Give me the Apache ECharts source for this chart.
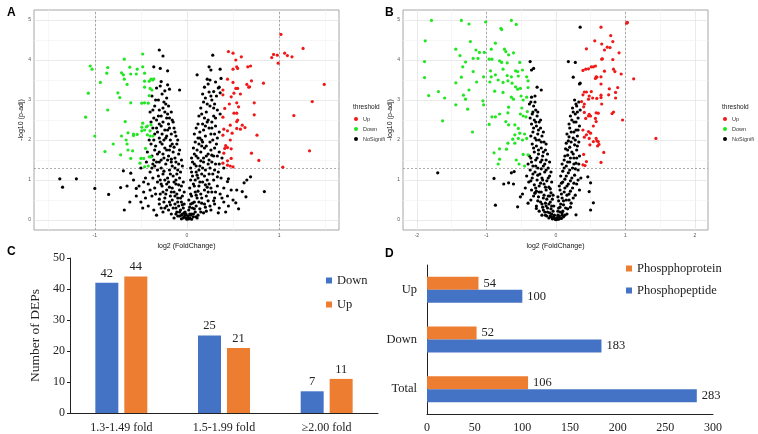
<!DOCTYPE html>
<html>
<head>
<meta charset="utf-8">
<script src="https://cdn.jsdelivr.net/npm/echarts@6/dist/echarts.min.js"></script>
<style>
html, body { margin: 0; padding: 0; background: #fff; }
#chart { width: 758px; height: 434px; }
</style>
</head>
<body>
<div id="chart"></div>
<script>
// ---- panel A volcano (log2 FC, -log10 p-adj) ----
const aUp = [[1.02,4.64],[1.26,4.29],[1.06,4.17],[0.94,4.14],[0.98,4.12],[1.09,4.11],[1.14,4.08],[0.92,4.06],[0.99,3.92],
  [0.45,4.21],[0.50,4.17],[0.59,4.08],[0.53,4.0],[0.54,3.83],[0.55,3.79],[0.50,3.77],[0.66,3.83],[0.69,3.85],[0.44,3.52],
  [0.50,3.44],[0.65,3.39],[0.70,3.48],[0.67,3.32],[0.68,3.33],[0.83,3.42],[1.49,3.39],[0.39,3.25],[0.39,3.13],[0.53,3.29],
  [0.55,3.29],[0.51,3.17],[0.58,3.15],[0.48,3.08],[1.36,2.96],[0.54,2.93],[0.73,2.93],[0.46,2.9],[0.41,2.79],[0.56,2.83],
  [0.51,2.67],[0.54,2.67],[0.73,2.63],[1.16,2.61],[0.39,2.57],[0.55,2.5],[0.54,2.46],[0.47,2.37],[0.60,2.37],[0.63,2.31],
  [0.54,2.29],[0.58,2.27],[0.40,2.27],[0.44,2.23],[0.49,2.17],[0.76,2.12],[0.39,2.12],[0.47,2.0],[0.42,1.86],[0.41,1.79],
  [0.44,1.81],[0.48,1.78],[1.33,1.73],[0.70,1.67],[0.40,1.67],[0.48,1.54],[0.44,1.48],[0.78,1.49],[0.39,1.42],[0.44,1.37],
  [0.47,1.35],[0.50,1.33],[1.04,1.32]];
const aDown = [[-1.05,3.85],[-1.03,3.77],[-1.07,3.17],[-1.10,2.57],[-1.0,2.1],[-0.94,3.44],[-0.86,3.81],[-0.87,3.67],
  [-0.86,2.75],[-0.89,1.71],[-0.80,1.9],[-0.75,3.18],[-0.73,3.06],[-0.72,1.63],[-0.71,2.1],[-0.71,3.68],[-0.69,3.63],
  [-0.68,4.02],[-0.68,3.52],[-0.67,2.46],[-0.66,2.0],[-0.65,1.9],[-0.65,3.39],[-0.64,1.75],[-0.64,2.18],[-0.62,3.82],
  [-0.61,2.93],[-0.61,3.65],[-0.61,1.54],[-0.59,1.73],[-0.58,2.11],[-0.58,2.15],[-0.55,3.65],[-0.54,3.77],[-0.54,2.14],
  [-0.51,1.42],[-0.50,1.54],[-0.49,2.32],[-0.49,2.92],[-0.49,2.23],[-0.48,4.15],[-0.48,3.83],[-0.48,2.42],[-0.47,1.54],
  [-0.46,3.32],[-0.46,3.47],[-0.46,3.67],[-0.46,2.93],[-0.46,2.25],[-0.46,1.33],[-0.45,1.79],[-0.44,2.33],[-0.43,2.13],
  [-0.43,2.35],[-0.42,1.35],[-0.42,2.92],[-0.41,3.47],[-0.41,3.11],[-0.41,1.58],[-0.40,2.23],[-0.40,2.1],[-0.40,3.29],
  [-0.39,1.58],[-0.39,3.52],[-0.39,2.38],[-0.38,3.25],[-0.37,3.5],[-0.37,2.1],[-0.36,3.53]];
const aNoSig = [[-1.38,1.03],[-1.35,0.82],[-1.2,1.03],[-1.0,0.79],[-0.85,0.64],[-0.68,0.25],[-0.69,1.23],[-0.72,0.81],
  [-0.65,0.85],[-0.61,1.17],[-0.55,0.79],[0.84,0.71],[0.64,0.58],[0.53,0.43],[0.54,0.75],[0.62,0.93],[0.65,1.0],[0.69,1.08],
  [0.60,0.71],[0.45,1.03],[0.44,0.96],[-0.30,4.25],[-0.26,4.1],[-0.36,3.83],[-0.29,3.79],[-0.21,3.73],[0.28,4.12],[0.24,3.83],
  [0.11,3.63],[0.36,3.77],[0.26,3.75],[0.37,3.54],[0.22,3.52],[0.25,3.5],[-0.28,3.46],[-0.21,3.38],[-0.19,3.27],[-0.24,3.23],
  [-0.08,3.25],[0.35,3.32],[0.29,3.21],[0.36,3.18],[0.19,3.32],
  [-0.38,3.1],[-0.33,3.3],[-0.31,3.0],[-0.27,3.15],[-0.25,2.95],[-0.35,2.85],[-0.22,3.05],[-0.30,2.75],[-0.20,2.85],
  [-0.40,2.7],[-0.28,2.6],[-0.24,2.7],[-0.19,2.55],[-0.33,2.5],[-0.26,2.45],[-0.21,2.65],[-0.16,2.5],[-0.36,2.55],
  [-0.37,2.3],[-0.32,2.2],[-0.28,2.35],[-0.24,2.25],[-0.20,2.4],[-0.17,2.15],[-0.14,2.3],[-0.30,2.05],[-0.25,2.0],
  [-0.22,2.1],[-0.35,2.15],[-0.18,2.0],[-0.12,2.1],[-0.38,1.6],[-0.34,1.85],[-0.30,1.7],[-0.27,1.9],[-0.25,1.55],
  [-0.22,1.75],[-0.20,1.6],[-0.18,1.85],[-0.15,1.7],[-0.13,1.55],[-0.11,1.9],[-0.28,1.5],[-0.32,1.65],[-0.24,1.8],
  [-0.17,1.52],[-0.09,1.65],[-0.40,1.2],[-0.35,1.35],[-0.31,1.1],[-0.28,1.3],[-0.26,1.15],[-0.23,1.4],[-0.21,1.05],
  [-0.19,1.25],[-0.17,1.45],[-0.15,1.1],[-0.13,1.3],[-0.11,1.15],[-0.09,1.4],[-0.07,1.2],[-0.45,1.05],[-0.33,1.45],
  [-0.24,1.0],[-0.16,1.35],[-0.50,1.3],[-0.12,1.0],[-0.52,0.85],[-0.47,0.7],[-0.42,0.9],[-0.38,0.6],[-0.35,0.8],
  [-0.32,0.95],[-0.29,0.65],[-0.27,0.85],[-0.24,0.55],[-0.22,0.75],[-0.20,0.95],[-0.18,0.6],[-0.16,0.8],[-0.14,0.7],
  [-0.12,0.9],[-0.10,0.55],[-0.08,0.75],[-0.06,0.85],[-0.05,0.6],[-0.45,0.55],[-0.40,0.75],[-0.30,0.52],[-0.26,0.7],
  [-0.19,0.82],[-0.11,0.65],[-0.42,0.35],[-0.36,0.25],[-0.30,0.4],[-0.26,0.2],[-0.22,0.35],[-0.19,0.45],[-0.17,0.15],
  [-0.15,0.3],[-0.13,0.4],[-0.11,0.2],[-0.09,0.35],[-0.08,0.1],[-0.07,0.25],[-0.06,0.45],[-0.05,0.15],[-0.04,0.3],
  [-0.03,0.08],[-0.02,0.2],[-0.01,0.05],[-0.02,0.12],[-0.04,0.05],[-0.06,0.03],[-0.10,0.1],[-0.14,0.05],[-0.33,0.12],
  [-0.50,0.45],[-0.28,0.3],[-0.43,1.7],[-0.41,2.0],[-0.44,1.45],[-0.39,1.9],[-0.37,1.4],
  [-0.34,3.0],[-0.29,3.35],[-0.23,2.9],[-0.37,2.75],[-0.31,2.6],[-0.26,2.8],[-0.22,2.55],[-0.17,2.7],[-0.39,2.45],
  [-0.30,2.4],[-0.21,2.25],[-0.15,2.45],[-0.33,2.3],[-0.27,2.15],[-0.19,2.3],[-0.13,2.2],[-0.36,2.0],[-0.29,1.95],
  [-0.23,2.05],[-0.16,1.9],[-0.10,2.0],[-0.35,1.75],[-0.26,1.65],[-0.19,1.75],[-0.14,1.82],[-0.08,1.75],[-0.36,1.5],
  [-0.30,1.45],[-0.21,1.5],[-0.12,1.45],[-0.06,1.5],[-0.38,1.3],[-0.32,1.25],[-0.25,1.22],[-0.18,1.15],[-0.10,1.25],
  [-0.05,1.35],[-0.37,1.05],[-0.29,1.0],[-0.22,0.9],[-0.14,0.95],[-0.08,1.05],[-0.04,0.95],[-0.34,0.65],[-0.28,0.9],
  [-0.23,0.65],[-0.17,0.7],[-0.13,0.6],[-0.09,0.88],[-0.03,0.7],[-0.25,0.45],[-0.20,0.25],[-0.16,0.5],[-0.12,0.3],
  [-0.10,0.45],[-0.07,0.55],[-0.05,0.38],[-0.03,0.4],[-0.08,0.2],[-0.12,0.15],[-0.03,0.18],[-0.06,0.12],[-0.01,0.14],
  [-0.18,0.38],[-0.24,0.3],[-0.47,0.95],[-0.55,0.6],[-0.58,1.0],[-0.62,0.45],[-0.48,0.3],
  [0.20,3.05],[0.27,3.0],[0.32,3.1],[0.24,3.2],[0.30,2.9],[0.34,3.3],[0.18,2.95],[0.15,2.8],[0.21,2.7],[0.25,2.85],
  [0.29,2.6],[0.33,2.75],[0.19,2.55],[0.23,2.5],[0.36,2.65],[0.13,2.6],[0.27,2.45],[0.10,2.3],[0.14,2.2],[0.17,2.4],
  [0.20,2.1],[0.24,2.3],[0.28,2.0],[0.31,2.35],[0.35,2.2],[0.12,2.05],[0.22,2.45],[0.26,2.15],[0.16,2.0],[0.33,2.05],
  [0.08,2.15],[0.07,1.8],[0.10,1.6],[0.13,1.9],[0.15,1.7],[0.18,1.55],[0.21,1.85],[0.23,1.65],[0.26,1.75],[0.29,1.6],
  [0.32,1.9],[0.35,1.7],[0.11,1.75],[0.17,1.95],[0.24,1.5],[0.05,1.55],[0.30,1.8],[0.38,1.55],[0.04,1.3],[0.06,1.1],
  [0.08,1.4],[0.10,1.2],[0.12,1.05],[0.14,1.35],[0.16,1.15],[0.18,1.45],[0.20,1.25],[0.22,1.0],[0.25,1.3],[0.28,1.15],
  [0.31,1.4],[0.34,1.2],[0.37,1.05],[0.13,1.25],[0.19,1.1],[0.27,1.45],[0.40,1.3],[0.09,1.0],[0.03,0.8],[0.05,0.6],
  [0.07,0.9],[0.09,0.7],[0.11,0.55],[0.13,0.85],[0.15,0.65],[0.17,0.95],[0.19,0.75],[0.21,0.6],[0.24,0.9],[0.27,0.7],
  [0.30,0.55],[0.33,0.85],[0.36,0.65],[0.40,0.8],[0.44,0.6],[0.48,0.75],[0.12,0.72],[0.22,0.82],[0.01,0.1],[0.02,0.25],
  [0.03,0.05],[0.04,0.4],[0.05,0.15],[0.06,0.3],[0.07,0.08],[0.08,0.45],[0.09,0.2],[0.10,0.35],[0.12,0.12],[0.14,0.28],
  [0.16,0.42],[0.18,0.18],[0.20,0.32],[0.23,0.48],[0.26,0.25],[0.30,0.4],[0.35,0.3],[0.40,0.45],[0.02,0.03],[0.00,0.02],
  [0.01,0.06],[0.05,0.02],[0.11,0.05],[0.45,0.35],
  [0.23,3.4],[0.31,3.45],[0.17,3.15],[0.26,3.1],[0.29,2.8],[0.22,2.9],[0.16,2.65],[0.31,2.55],[0.20,2.35],[0.27,2.3],
  [0.12,2.4],[0.18,2.25],[0.30,2.15],[0.09,1.95],[0.14,2.05],[0.19,1.8],[0.25,1.95],[0.33,1.6],[0.08,1.65],[0.12,1.55],
  [0.16,1.85],[0.21,1.6],[0.27,1.62],[0.06,1.45],[0.10,1.35],[0.15,1.48],[0.23,1.4],[0.30,1.25],[0.35,1.4],[0.05,1.2],
  [0.11,1.12],[0.17,1.3],[0.24,1.15],[0.29,1.0],[0.33,1.08],[0.04,1.0],[0.08,0.85],[0.14,0.95],[0.20,0.88],[0.26,0.8],
  [0.31,0.7],[0.04,0.65],[0.10,0.62],[0.16,0.55],[0.23,0.7],[0.29,0.48],[0.38,0.55],[0.02,0.5],[0.06,0.42],[0.13,0.45],
  [0.19,0.4],[0.25,0.35],[0.03,0.32],[0.08,0.28],[0.15,0.2],[0.21,0.22],[0.04,0.12],[0.07,0.15],[0.10,0.08],[0.03,0.15],
  [0.42,0.2],[0.50,0.5],[0.56,0.28],[0.34,0.18]];

// ---- panel B volcano ----
const bUp = [[1.02,4.92],[1.03,4.94],[0.65,4.82],[0.79,4.61],[0.56,4.48],[0.82,4.46],[0.66,4.4],[0.74,4.32],[0.78,4.31],
  [0.44,4.28],[0.70,4.25],[0.91,4.18],[0.67,4.03],[0.66,4.02],[0.82,4.01],[0.51,3.83],[0.54,3.83],[0.57,3.85],[0.47,3.78],
  [0.43,3.77],[0.39,3.74],[0.83,3.77],[0.85,3.71],[0.70,3.72],[0.94,3.65],[0.58,3.58],[0.59,3.57],[0.65,3.58],[0.57,3.54],
  [1.12,3.53],[0.65,3.4],[0.77,3.28],[0.89,3.31],[0.86,3.19],[0.41,3.2],[0.44,3.2],[0.51,3.21],[0.39,3.13],[0.48,3.1],
  [0.53,3.05],[0.65,3.12],[0.65,3.06],[0.76,3.13],[0.59,3.04],[0.86,3.05],[0.47,3.02],[0.37,2.96],[0.66,2.9],[0.41,2.9],
  [0.40,2.83],[0.58,2.68],[0.61,2.67],[0.83,2.7],[0.81,2.66],[0.41,2.69],[0.48,2.64],[0.47,2.6],[0.50,2.6],[0.57,2.54],
  [0.58,2.46],[0.96,2.5],[0.43,2.54],[0.54,2.35],[0.39,2.25],[0.47,2.21],[0.44,2.13],[0.50,2.17],[0.41,2.07],[0.48,2.04],
  [0.58,2.04],[0.54,1.96],[0.59,1.98],[0.61,1.96],[0.49,1.88],[0.60,1.85],[0.62,1.89],[1.44,2.04],[0.69,1.69],[0.40,1.64],
  [0.65,1.44],[0.39,1.38],[0.44,1.46],[0.42,1.36]];
const bDown = [[-1.79,4.99],[-1.36,4.99],[-1.25,4.9],[-1.01,4.95],[-0.64,4.99],[-0.57,4.89],[-0.79,4.79],[-0.78,4.76],
  [-1.88,4.48],[-1.23,4.46],[-0.87,4.42],[-1.44,4.27],[-1.15,4.25],[-1.03,4.19],[-1.10,4.19],[-0.93,4.27],[-0.74,4.27],
  [-0.72,4.21],[-0.68,4.13],[-0.61,4.18],[-1.38,4.11],[-1.19,4.04],[-1.12,4.04],[-0.96,4.02],[-0.92,4.02],[-0.81,3.98],
  [-0.78,3.94],[-0.70,3.93],[-0.52,3.94],[-1.89,3.96],[-1.30,3.95],[-1.34,3.83],[-0.94,3.73],[-1.04,3.58],[-1.19,3.71],
  [-0.76,3.77],[-0.58,3.73],[-0.55,3.71],[-0.48,3.75],[-1.36,3.57],[-1.89,3.56],[-0.93,3.58],[-0.87,3.63],[-0.70,3.61],
  [-0.64,3.58],[-0.54,3.6],[-0.42,3.58],[-0.40,3.48],[-1.44,3.43],[-1.14,3.45],[-0.95,3.45],[-0.83,3.5],[-0.76,3.44],
  [-0.69,3.48],[-0.63,3.42],[-0.58,3.33],[-0.55,3.27],[-0.51,3.29],[-0.40,3.31],[-1.69,3.21],[-1.83,3.11],[-1.60,3.05],
  [-1.25,3.25],[-1.33,3.12],[-1.30,3.02],[-0.88,3.22],[-0.76,3.19],[-0.64,3.07],[-0.61,3.02],[-0.50,3.1],[-0.47,3.0],
  [-0.42,3.07],[-1.44,2.88],[-1.27,2.77],[-1.05,2.98],[-1.04,2.88],[-0.68,2.82],[-0.49,2.8],[-0.41,2.71],[-1.63,2.48],
  [-0.92,2.58],[-0.87,2.58],[-0.81,2.65],[-0.69,2.68],[-0.51,2.65],[-0.47,2.6],[-0.43,2.58],[-0.96,2.39],[-0.72,2.46],
  [-0.68,2.38],[-0.59,2.38],[-0.54,2.29],[-1.20,2.2],[-0.59,2.13],[-0.52,2.17],[-0.45,2.15],[-0.62,2.02],[-0.54,2.04],
  [-0.48,2.0],[-0.42,2.04],[-0.69,1.92],[-0.59,1.92],[-0.81,1.78],[-0.89,1.68],[-0.71,1.77],[-0.47,1.64],[-0.40,1.63],
  [-0.81,1.52],[-0.83,1.4],[-0.57,1.5],[-0.53,1.4],[-0.45,1.35]];
const bNoSig = [[0.35,4.82],[0.18,3.96],[0.28,3.94],[0.25,3.57],[0.34,3.4],[0.35,3.42],[-0.37,3.96],[-0.32,3.79],
  [-0.35,3.75],[-0.27,3.32],[-0.21,3.25],[-0.30,3.1],[-0.35,3.07],[-1.70,1.18],[-0.89,1.04],[-0.87,0.37],[-0.75,0.9],
  [-0.68,0.93],[-0.61,0.9],[-0.48,0.65],[-0.55,0.33],[-0.64,1.18],[-0.60,1.21],[-0.51,0.58],[-0.30,0.67],[-0.28,0.29],
  [-0.40,0.42],[0.54,0.43],[0.50,0.25],[0.29,0.13],[0.48,0.71],[0.50,0.93],[0.46,1.08],
  [-0.36,2.95],[-0.32,2.85],[-0.29,2.75],[-0.34,2.65],[-0.27,2.6],[-0.31,2.5],[-0.24,2.45],[-0.35,2.4],[-0.28,2.35],
  [-0.22,2.3],[-0.33,2.2],[-0.26,2.15],[-0.20,2.1],[-0.30,2.05],[-0.24,2.0],[-0.17,1.95],[-0.34,1.9],[-0.28,1.85],
  [-0.21,1.8],[-0.15,1.75],[-0.31,1.7],[-0.25,1.65],[-0.19,1.6],[-0.36,1.55],[-0.29,1.5],[-0.22,1.45],[-0.14,1.5],
  [-0.40,1.4],[-0.33,1.35],[-0.26,1.3],[-0.18,1.35],[-0.11,1.3],[-0.37,1.25],[-0.30,1.2],[-0.23,1.15],[-0.16,1.2],
  [-0.09,1.1],[-0.42,1.1],[-0.34,1.05],[-0.27,1.0],[-0.20,1.05],[-0.13,0.98],[-0.39,0.95],[-0.31,0.88],[-0.24,0.85],
  [-0.17,0.9],[-0.10,0.82],[-0.44,0.8],[-0.35,0.75],[-0.28,0.72],[-0.21,0.7],[-0.14,0.75],[-0.07,0.68],[-0.32,0.6],
  [-0.25,0.58],[-0.18,0.55],[-0.11,0.6],[-0.05,0.52],[-0.36,0.5],[-0.22,0.45],[-0.15,0.42],[-0.08,0.45],[-0.28,0.35],
  [-0.19,0.32],[-0.12,0.3],[-0.06,0.35],[-0.24,0.22],[-0.16,0.2],[-0.09,0.18],[-0.04,0.22],[-0.13,0.1],[-0.07,0.08],
  [-0.03,0.1],[-0.02,0.04],[-0.05,0.03],[-0.10,0.05],[-0.20,0.12],[-0.01,0.02],
  [-0.38,2.9],[-0.33,2.7],[-0.30,2.95],[-0.26,2.7],[-0.37,2.55],[-0.29,2.45],[-0.22,2.5],[-0.32,2.3],[-0.25,2.25],
  [-0.18,2.2],[-0.36,2.1],[-0.28,2.0],[-0.21,1.95],[-0.14,1.9],[-0.32,1.8],[-0.25,1.75],[-0.18,1.7],[-0.12,1.65],
  [-0.38,1.6],[-0.27,1.55],[-0.20,1.5],[-0.16,1.4],[-0.09,1.45],[-0.35,1.45],[-0.29,1.35],[-0.21,1.28],[-0.14,1.25],
  [-0.07,1.2],[-0.33,1.15],[-0.26,1.12],[-0.19,1.0],[-0.11,1.05],[-0.06,0.95],[-0.36,0.98],[-0.29,0.8],[-0.22,0.92],
  [-0.15,0.82],[-0.08,0.78],[-0.04,0.62],[-0.30,0.68],[-0.24,0.7],[-0.17,0.62],[-0.13,0.52],[-0.09,0.6],[-0.26,0.48],
  [-0.20,0.4],[-0.14,0.35],[-0.10,0.4],[-0.07,0.28],[-0.03,0.35],[-0.18,0.25],[-0.12,0.2],[-0.06,0.15],[-0.02,0.12],
  [-0.08,0.1],[-0.15,0.12],[-0.04,0.06],
  [0.27,3.0],[0.33,2.95],[0.30,2.85],[0.24,2.8],[0.35,2.75],[0.28,2.65],[0.21,2.6],[0.32,2.55],[0.26,2.45],[0.19,2.4],
  [0.34,2.35],[0.29,2.25],[0.22,2.2],[0.16,2.15],[0.31,2.1],[0.25,2.05],[0.18,1.98],[0.33,1.95],[0.27,1.88],[0.20,1.82],
  [0.14,1.78],[0.30,1.75],[0.23,1.7],[0.17,1.62],[0.34,1.6],[0.26,1.55],[0.12,1.5],[0.20,1.45],[0.29,1.42],[0.15,1.35],
  [0.24,1.3],[0.32,1.25],[0.10,1.22],[0.18,1.18],[0.27,1.12],[0.36,1.05],[0.13,1.02],[0.21,0.98],[0.08,0.92],[0.30,0.9],
  [0.16,0.85],[0.24,0.8],[0.06,0.75],[0.12,0.7],[0.19,0.65],[0.28,0.62],[0.09,0.55],[0.15,0.5],[0.04,0.48],[0.22,0.42],
  [0.11,0.38],[0.06,0.32],[0.17,0.28],[0.03,0.22],[0.09,0.18],[0.13,0.12],[0.05,0.1],[0.02,0.06],[0.08,0.04],[0.01,0.03],
  [0.00,0.01],[0.04,0.02],
  [0.29,2.9],[0.25,2.7],[0.31,2.7],[0.23,2.5],[0.29,2.45],[0.20,2.3],[0.26,2.2],[0.32,2.25],[0.19,2.08],[0.28,2.0],
  [0.15,1.92],[0.22,1.95],[0.31,1.85],[0.17,1.75],[0.25,1.65],[0.13,1.6],[0.21,1.55],[0.30,1.55],[0.09,1.4],[0.17,1.45],
  [0.26,1.4],[0.33,1.4],[0.12,1.3],[0.20,1.25],[0.28,1.28],[0.07,1.1],[0.15,1.1],[0.23,1.05],[0.32,1.0],[0.10,0.95],
  [0.18,0.9],[0.26,0.92],[0.05,0.85],[0.13,0.8],[0.21,0.72],[0.34,0.75],[0.08,0.65],[0.16,0.62],[0.25,0.55],[0.03,0.58],
  [0.11,0.48],[0.19,0.5],[0.07,0.4],[0.14,0.3],[0.21,0.32],[0.04,0.3],[0.10,0.22],[0.16,0.15],[0.06,0.2],[0.03,0.12],
  [0.11,0.08],[0.06,0.05],[0.02,0.02],[0.09,0.12]];

// volcano axes + thresholds
const aTicksX = [-1, 0, 1];
const bTicksX = [-2, -1, 0, 1, 2];
const volTicksY = [0, 1, 2, 3, 4, 5];
const aGridX = [-1.5, -1, -0.5, 0, 0.5, 1, 1.5];
const bGridX = [-2, -1.5, -1, -0.5, 0, 0.5, 1, 1.5, 2];
const volGridY = [0, 0.5, 1, 1.5, 2, 2.5, 3, 3.5, 4, 4.5, 5];
const fcCut = [-1, 1];
const pCut = 1.3;

// ---- panel C ----
const cCats = ['1.3-1.49 fold', '1.5-1.99 fold', '≥2.00 fold'];
const cDown = [42, 25, 7];
const cUp = [44, 21, 11];

// ---- panel D ----
const dCats = ['Total', 'Down', 'Up'];
const dProtein = [106, 52, 54];
const dPeptide = [283, 183, 100];

const RED = '#f01818', GREEN = '#22e622', BLACK = '#000';
const BLUE = '#4472c4', ORANGE = '#ed7d31';
const SANS = 'Liberation Sans, Arial, sans-serif';
const SERIF = 'Liberation Serif, Times New Roman, serif';

function volX(gridIdx, min, max, ticks) {
  return {
    type: 'value', gridIndex: gridIdx, min, max,
    name: 'log2 (FoldChange)', nameLocation: 'middle', nameGap: 11,
    nameTextStyle: { fontFamily: SANS, fontSize: 7, color: '#111' },
    axisLine: { show: false },
    axisTick: { show: true, length: 2, customValues: ticks, lineStyle: { color: '#777', width: 0.6 } },
    axisLabel: { customValues: ticks, fontFamily: SANS, fontSize: 5, color: '#555', margin: 3 },
    splitLine: { show: false }
  };
}
function volY(gridIdx) {
  return {
    type: 'value', gridIndex: gridIdx, min: -0.25, max: 5.25,
    name: '-log10 (p-adj)', nameLocation: 'middle', nameGap: 9, nameRotate: 90,
    nameTextStyle: { fontFamily: SANS, fontSize: 7, color: '#111' },
    axisLine: { show: false },
    axisTick: { show: true, length: 2, customValues: volTicksY, lineStyle: { color: '#777', width: 0.6 } },
    axisLabel: { customValues: volTicksY, fontFamily: SANS, fontSize: 5, color: '#555', margin: 3 },
    splitLine: { show: false }
  };
}
// background grid + dashed cut-offs, drawn as mark lines under the points
function volLines(idx, gx) {
  const major = { color: '#e4e4e4', width: 0.8, type: 'solid' };
  const minor = { color: '#f1f1f1', width: 0.6, type: 'solid' };
  const dash = { color: '#8c8c8c', width: 0.7, type: [2, 2] };
  const data = [];
  gx.forEach(v => data.push({ xAxis: v, lineStyle: Number.isInteger(v) ? major : minor }));
  volGridY.forEach(v => data.push({ yAxis: v, lineStyle: Number.isInteger(v) ? major : minor }));
  fcCut.forEach(v => data.push({ xAxis: v, lineStyle: dash }));
  data.push({ yAxis: pCut, lineStyle: dash });
  return {
    type: 'scatter', xAxisIndex: idx, yAxisIndex: idx, data: [], z: 1, silent: true,
    markLine: { z: 1, symbol: 'none', silent: true, animation: false, label: { show: false }, data }
  };
}
function pts(name, data, color, idx) {
  return {
    name, type: 'scatter', xAxisIndex: idx, yAxisIndex: idx, data,
    symbolSize: 3.2, itemStyle: { color, opacity: 1 }, z: 6, silent: true
  };
}
function volLegend(left) {
  return {
    left, top: 111, orient: 'vertical', icon: 'circle',
    itemWidth: 4, itemHeight: 4, itemGap: 4, selectedMode: false,
    textStyle: { fontFamily: SANS, fontSize: 5.5, color: '#333' },
    data: [
      { name: 'Up', itemStyle: { color: RED } },
      { name: 'Down', itemStyle: { color: GREEN } },
      { name: 'NoSignifi', itemStyle: { color: BLACK } }
    ]
  };
}
function panelTitle(text, left, top) {
  return { text, left, top, textStyle: { fontFamily: SANS, fontSize: 12, fontWeight: 'bold', color: '#000' } };
}

const chart = echarts.init(document.getElementById('chart'), null, { renderer: 'canvas' });
chart.setOption({
  animation: false,
  backgroundColor: '#fff',
  title: [
    panelTitle('A', 2, 2), panelTitle('B', 380, 2), panelTitle('C', 2, 241), panelTitle('D', 380, 243),
    { text: 'threshold', left: 348, top: 99, textStyle: { fontFamily: SANS, fontSize: 6.5, fontWeight: 'normal', color: '#222' } },
    { text: 'threshold', left: 717, top: 99, textStyle: { fontFamily: SANS, fontSize: 6.5, fontWeight: 'normal', color: '#222' } }
  ],
  legend: [
    volLegend(349),
    volLegend(718),
    {
      left: 321, top: 269, orient: 'vertical', icon: 'rect', itemWidth: 6, itemHeight: 6, itemGap: 11,
      selectedMode: false, textStyle: { fontFamily: SERIF, fontSize: 12.5, color: '#222' },
      data: [{ name: 'Down', itemStyle: { color: BLUE } }, { name: 'Up', itemStyle: { color: ORANGE } }]
    },
    {
      left: 621, top: 257, orient: 'vertical', icon: 'rect', itemWidth: 6, itemHeight: 6, itemGap: 9,
      selectedMode: false, textStyle: { fontFamily: SERIF, fontSize: 12.5, color: '#222' },
      data: ['Phospphoprotein', 'Phosphopeptide']
    }
  ],
  grid: [
    { left: 34, right: 419, top: 10, bottom: 204, show: true, borderColor: '#a6a6a6', borderWidth: 1, backgroundColor: '#fff' },
    { left: 403, right: 50, top: 10, bottom: 204, show: true, borderColor: '#a6a6a6', borderWidth: 1, backgroundColor: '#fff' },
    { left: 70, right: 380, top: 258, bottom: 21 },
    { left: 427, right: 45, top: 265, bottom: 18 }
  ],
  xAxis: [
    volX(0, -1.66, 1.65, aTicksX),
    volX(1, -2.2, 2.19, bTicksX),
    {
      type: 'category', gridIndex: 2, data: cCats,
      axisLine: { lineStyle: { color: '#222', width: 1 } }, axisTick: { show: false },
      axisLabel: { fontFamily: SERIF, fontSize: 12, color: '#222', margin: 9 }
    },
    {
      type: 'value', gridIndex: 3, min: 0, max: 300, interval: 50,
      axisLine: { show: true, lineStyle: { color: '#222', width: 1 } }, axisTick: { show: false },
      axisLabel: { fontFamily: SERIF, fontSize: 12, color: '#222', margin: 8 },
      splitLine: { show: false }
    }
  ],
  yAxis: [
    volY(0),
    volY(1),
    {
      type: 'value', gridIndex: 2, min: 0, max: 50, interval: 10,
      name: 'Number of DEPs', nameLocation: 'middle', nameGap: 28, nameRotate: 90,
      nameTextStyle: { fontFamily: SERIF, fontSize: 13.5, color: '#222' },
      axisLine: { show: true, lineStyle: { color: '#222', width: 1 } },
      axisTick: { show: true, length: 3, lineStyle: { color: '#222' } },
      axisLabel: { fontFamily: SERIF, fontSize: 12, color: '#222', margin: 5 },
      splitLine: { show: false }
    },
    {
      type: 'category', gridIndex: 3, data: dCats,
      axisLine: { lineStyle: { color: '#222', width: 1 } }, axisTick: { show: false },
      axisLabel: { fontFamily: SERIF, fontSize: 12.5, color: '#222', margin: 10 }
    }
  ],
  series: [
    volLines(0, aGridX),
    pts('NoSignifi', aNoSig, BLACK, 0),
    pts('Down', aDown, GREEN, 0),
    pts('Up', aUp, RED, 0),
    volLines(1, bGridX),
    pts('NoSignifi', bNoSig, BLACK, 1),
    pts('Down', bDown, GREEN, 1),
    pts('Up', bUp, RED, 1),
    {
      name: 'Down', type: 'bar', xAxisIndex: 2, yAxisIndex: 2, data: cDown, barWidth: 23, barGap: '26%',
      itemStyle: { color: BLUE },
      label: { show: true, position: 'top', distance: 3, fontFamily: SERIF, fontSize: 12.5, color: '#222' }
    },
    {
      name: 'Up', type: 'bar', xAxisIndex: 2, yAxisIndex: 2, data: cUp, barWidth: 23, barGap: '26%',
      itemStyle: { color: ORANGE },
      label: { show: true, position: 'top', distance: 3, fontFamily: SERIF, fontSize: 12.5, color: '#222' }
    },
    {
      name: 'Phospphoprotein', type: 'bar', xAxisIndex: 3, yAxisIndex: 3, data: dProtein, barWidth: 13, barGap: '0%',
      itemStyle: { color: ORANGE },
      label: { show: true, position: 'right', distance: 5, fontFamily: SERIF, fontSize: 12.5, color: '#222' }
    },
    {
      name: 'Phosphopeptide', type: 'bar', xAxisIndex: 3, yAxisIndex: 3, data: dPeptide, barWidth: 13, barGap: '0%',
      itemStyle: { color: BLUE },
      label: { show: true, position: 'right', distance: 5, fontFamily: SERIF, fontSize: 12.5, color: '#222' }
    }
  ]
});
</script>
</body>
</html>
